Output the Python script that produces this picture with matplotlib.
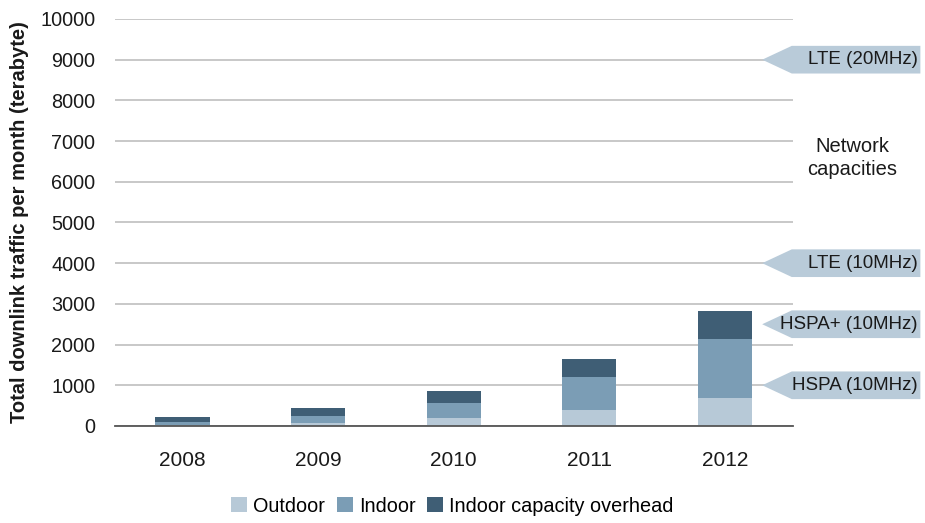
import matplotlib.pyplot as plt
from matplotlib.patches import Polygon
from matplotlib.transforms import blended_transform_factory

plt.rcParams['font.family'] = ['Liberation Sans', 'DejaVu Sans']

years = ['2008', '2009', '2010', '2011', '2012']
outdoor = [30, 65, 190, 400, 695]
indoor = [75, 185, 380, 795, 1440]
overhead = [110, 180, 300, 445, 685]

capacity_names = ['LTE (20MHz)', 'LTE (10MHz)', 'HSPA+ (10MHz)', 'HSPA (10MHz)']
capacity_values = [9000, 4000, 2500, 1000]

c_out = '#b7c9d7'
c_in = '#7b9db5'
c_over = '#3f5e75'

fig = plt.figure(figsize=(9.25, 5.23), dpi=100)
ax = fig.add_axes([0.124, 0.1855, 0.733, 0.7782])

x = range(len(years))
bottom2 = [a + b for a, b in zip(outdoor, indoor)]
ax.bar(x, outdoor, width=0.4, color=c_out, label='Outdoor', zorder=3)
ax.bar(x, indoor, width=0.4, bottom=outdoor, color=c_in, label='Indoor', zorder=3)
ax.bar(x, overhead, width=0.4, bottom=bottom2, color=c_over,
       label='Indoor capacity overhead', zorder=3)

ax.set_xlim(-0.5, 4.5)
ax.set_ylim(0, 10000)
ax.set_yticks(range(0, 10001, 1000))
ax.set_xticks(list(x))
ax.set_xticklabels(years)
ax.tick_params(axis='both', length=0, colors='#1a1a1a')
ax.tick_params(axis='y', pad=14, labelsize=14.3)
ax.tick_params(axis='x', pad=18, labelsize=15)
ax.grid(axis='y', color='#c4c4c4', linewidth=1.3, zorder=0)
for s in ['top', 'right', 'left']:
    ax.spines[s].set_visible(False)
ax.spines['bottom'].set_color('#555555')
ax.spines['bottom'].set_linewidth(1.3)
ax.spines['bottom'].set_zorder(4)

ax.set_ylabel('Total downlink traffic per month (terabyte)', fontsize=14.5,
              fontweight='bold', color='#1a1a1a', labelpad=8)

# capacity arrows on the right
tr = blended_transform_factory(fig.transFigure, ax.transData)
h = 340
for name, v in zip(capacity_names, capacity_values):
    pts = [(0.824, v), (0.856, v + h), (0.995, v + h), (0.995, v - h), (0.856, v - h)]
    poly = Polygon(pts, closed=True, transform=tr, facecolor='#b9cbd9',
                   edgecolor='none', clip_on=False, zorder=5)
    ax.add_patch(poly)
    ax.text(0.992, v, name, transform=tr, ha='right', va='center',
            fontsize=13.5, color='#1a1a1a', clip_on=False, zorder=6)

fig.text(0.921, 0.698, 'Network\ncapacities', ha='center', va='center',
         fontsize=14.5, color='#1a1a1a', linespacing=1.25)

fig.legend(loc='lower center', bbox_to_anchor=(0.489, -0.02), ncol=3, frameon=False,
           fontsize=14.3, handlelength=0.8, handleheight=0.8, handletextpad=0.3,
           columnspacing=0.6)

fig.savefig('out.png', dpi=100)
